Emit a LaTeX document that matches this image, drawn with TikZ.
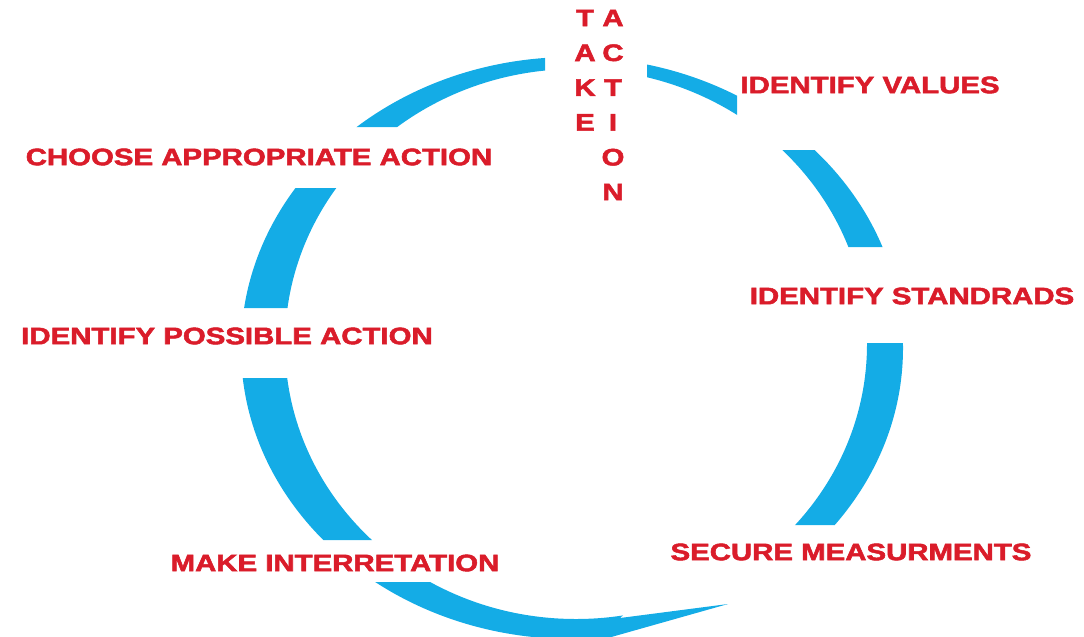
\documentclass[tikz,border=0pt]{standalone}
\usepackage{fontspec}
\setmainfont{Liberation Sans}[BoldFeatures={FakeBold=2}]
\definecolor{ringblue}{RGB}{20,172,230}
\definecolor{labelred}{RGB}{218,28,42}
\newcommand\lbl{\fontsize{13.6}{16}\selectfont\bfseries}
\newcommand\widetext[1]{\scalebox{1.23}[1]{#1}}
\tikzset{stage/.style={text=labelred,font=\lbl,inner sep=0pt}}

\begin{document}
\begin{tikzpicture}[x=0.02cm,y=-0.02cm]
\useasboundingbox (0,0) rectangle (1084,636);
% the ring, broken where the labels sit
\begin{scope}[even odd rule]
 \clip (0,0) rectangle (1084,660)
   (545,0) rectangle (647,125)
   (737,0) rectangle (1084,150)
   (0,127) rectangle (560,188)
   (0,308) rectangle (560,378)
   (0,540) rectangle (560,582)
   (600,247) rectangle (1084,343)
   (725,525)--(1084,525)--(1084,660)--(530,660)--(728,604)--(620,618)--cycle;
 \fill[ringblue] (572,348) ellipse [x radius=331,y radius=291]
   (576,344) ellipse [x radius=291,y radius=275];
\end{scope}
\foreach \ch [count=\i] in {T,A,K,E}
  \node[stage] (take\i) at (585,18+34.8*\i-34.8) {\widetext{\ch}};
\foreach \ch [count=\i] in {A,C,T,I,O,N}
  \node[stage] (action\i) at (613,18+34.8*\i-34.8) {\widetext{\ch}};
\node[stage] (values) at (870,85) {\widetext{IDENTIFY VALUES}};
\node[stage] (standards) at (912,296) {\widetext{IDENTIFY STANDRADS}};
\node[stage] (measure) at (851,552) {\widetext{SECURE MEASURMENTS}};
\node[stage] (interpret) at (335,563) {\widetext{MAKE INTERRETATION}};
\node[stage] (possible) at (227,336) {\widetext{IDENTIFY POSSIBLE ACTION}};
\node[stage] (choose) at (259,157) {\widetext{CHOOSE APPROPRIATE ACTION}};
\end{tikzpicture}
\end{document}
